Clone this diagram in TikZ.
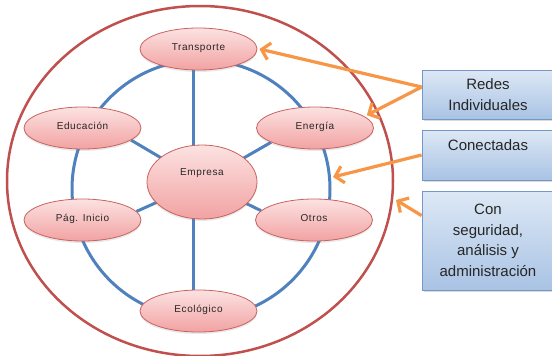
\documentclass[tikz,border=0pt]{standalone}
\usepackage{fontspec}
\setmainfont{Liberation Sans}
\newfontfamily\petalfont[LetterSpace=6]{Liberation Sans}
\usetikzlibrary{shapes.geometric,shadows,arrows.meta,calc}

\definecolor{ringblue}{HTML}{4F81BD}
\definecolor{ringred}{HTML}{C0504D}
\definecolor{petalline}{HTML}{C8625E}
\definecolor{petaltop}{HTML}{FCE2E2}
\definecolor{petalbot}{HTML}{F2A2A2}
\definecolor{boxline}{HTML}{7598C8}
\definecolor{boxtop}{HTML}{DDE8F5}
\definecolor{boxbot}{HTML}{A9C3E4}
\definecolor{pointer}{HTML}{F79646}

\pgfdeclarelayer{background}
\pgfsetlayers{background,main}

\tikzset{
  petal/.style={ellipse, draw=petalline, line width=0.8pt,
    top color=petaltop, bottom color=petalbot,
    minimum width=117pt, minimum height=42pt, inner sep=0pt,
    font=\petalfont\fontsize{10}{12}\selectfont, text=black!85,
    text height=7pt, text depth=4pt,
    drop shadow={opacity=0.18, shadow xshift=0pt, shadow yshift=-2pt}},
  hub/.style={petal, minimum width=110pt, minimum height=74pt,
    text height=7pt, text depth=20pt},
  notebox/.style={rectangle, draw=boxline, line width=0.8pt,
    top color=boxtop, bottom color=boxbot,
    minimum width=132pt, inner sep=0pt, align=center,
    font=\fontsize{15}{20.5}\selectfont, text=black!85,
    drop shadow={opacity=0.3, shadow xshift=1.5pt, shadow yshift=-2pt}},
  spoke/.style={draw=ringblue, line width=3pt},
  pointerline/.style={draw=pointer, line width=3.2pt,
    -{Straight Barb[length=8pt,width=17pt]}}
}

\begin{document}
\begin{tikzpicture}[x=1pt,y=-1pt]
\useasboundingbox (0,0) rectangle (552,356);

% network nodes
\node[petal] (trans) at (198.5,49)  {Transporte};
\node[petal] (edu)   at (82.5,128)  {Educación};
\node[petal] (ener)  at (315,128)   {Energía};
\node[petal] (pag)   at (82.5,220)  {Pág. Inicio};
\node[petal] (otros) at (314,220)   {Otros};
\node[petal] (eco)   at (198.5,311) {Ecológico};
\node[hub]   (emp)   at (202,182)   {Empresa};

% ring, boundary and spokes go underneath the nodes
\begin{pgfonlayer}{background}
  \draw[ringblue, line width=3pt] (201,189) circle [radius=129pt];
  \draw[ringred, line width=2.5pt] (200,181) ellipse [x radius=193pt, y radius=175pt];
  \draw[spoke] ([xshift=-5pt]trans.center) -- ([xshift=-5pt]eco.center);
  \draw[spoke] (emp.center) -- (edu.-14);
  \draw[spoke] (emp.center) -- (ener.198);
  \draw[spoke] (emp.center) -- (pag.9);
  \draw[spoke] (emp.center) -- (otros.170);
\end{pgfonlayer}

% points the pointers aim at: on the ring and just outside the boundary
\coordinate (ringpt) at (333,177);
\coordinate (outerpt) at (396,200);

% annotation boxes, running past the right margin
\node[notebox, minimum height=49pt] (b1) at (488,94.5) {Redes\\Individuales};
\node[notebox, minimum height=50pt, text height=11pt, text depth=20pt] (b2) at (488,155) {Conectadas};
\node[notebox, minimum height=99pt] (b3) at (488,240.5) {Con\\seguridad,\\análisis y\\administración};

% pointers
\coordinate (b1src) at ($(b1.north west)!0.35!(b1.south west)$);
\coordinate (b3src) at ($(b3.north west)!0.25!(b3.south west)$);
\draw[pointerline] (b1src) -- ([xshift=2pt]trans.east);
\draw[pointerline] (b1src) -- ([xshift=1pt,yshift=2pt]ener.12);
\draw[pointerline] (b2.west) -- (ringpt);
\draw[pointerline] (b3src) -- (outerpt);
\end{tikzpicture}
\end{document}
